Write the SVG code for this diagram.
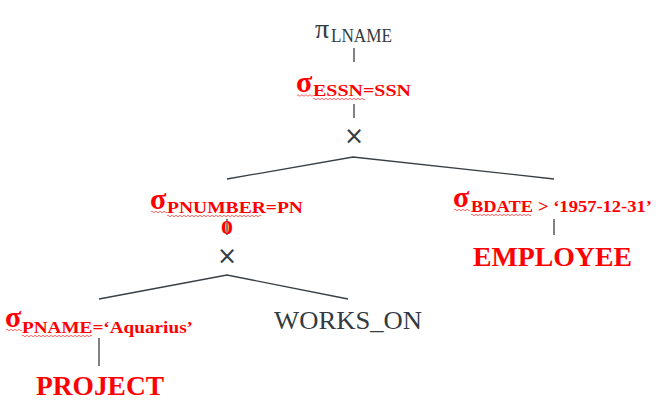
<svg xmlns="http://www.w3.org/2000/svg" width="663" height="406" viewBox="0 0 663 406">
<style>
.r{fill:#ff0000;font-weight:bold}
.g{fill:#333b42}
.x{fill:#333b42}
.ln{stroke:#3a3f44;stroke-width:1.3;fill:none}
.wv{stroke:#ff0000;stroke-width:0.8;fill:none;opacity:0.75}
</style>
<rect width="663" height="406" fill="#ffffff"/>
<g id="connectors">
<line class="ln" x1="354" y1="48" x2="354" y2="62"/>
<line class="ln" x1="354" y1="104" x2="354" y2="118"/>
<polyline class="ln" points="227,179 353,157 554,179"/>
<line class="ln" x1="227" y1="219" x2="227" y2="235"/>
<line class="ln" x1="554" y1="219" x2="554" y2="235"/>
<polyline class="ln" points="99,299 227,275 348,299"/>
<line class="ln" x1="99" y1="338" x2="99" y2="366"/>
</g>
<g font-family="'Liberation Serif', 'DejaVu Serif', serif">
<g id="project-lname">
<text class="g" x="315" y="38" font-size="28">π</text>
<text class="g" x="331" y="42" font-size="18" textLength="61" lengthAdjust="spacingAndGlyphs">LNAME</text>
</g>
<g id="select-essn">
<text class="r" x="296" y="92" font-size="30">σ</text>
<text class="r" x="313" y="96" font-size="17" textLength="98" lengthAdjust="spacingAndGlyphs">ESSN=SSN</text>
<path class="wv" d="M297,95.5q1,-1.5 2,0t2,0t2,0t2,0t2,0t2,0t2,0t2,0"/>
<path class="wv" d="M313,99q1,-1.5 2,0t2,0t2,0t2,0t2,0t2,0t2,0t2,0t2,0t2,0t2,0t2,0t2,0t2,0t2,0t2,0t2,0t2,0t2,0t2,0t2,0t2,0t2,0t2,0t2,0t2,0"/>
</g>
<g id="select-pnumber">
<text class="r" x="150" y="209" font-size="30">σ</text>
<text class="r" x="167" y="213" font-size="17" textLength="136" lengthAdjust="spacingAndGlyphs">PNUMBER=PN</text>
<text class="r" x="221" y="234" font-size="18" textLength="12" lengthAdjust="spacingAndGlyphs">0</text>
<path class="wv" d="M151,212q1,-1.5 2,0t2,0t2,0t2,0t2,0t2,0t2,0t2,0"/>
<path class="wv" d="M167,216q1,-1.5 2,0t2,0t2,0t2,0t2,0t2,0t2,0t2,0t2,0t2,0t2,0t2,0t2,0t2,0t2,0t2,0t2,0t2,0t2,0t2,0t2,0t2,0t2,0t2,0t2,0t2,0t2,0t2,0t2,0t2,0t2,0t2,0t2,0t2,0t2,0t2,0t2,0t2,0t2,0t2,0t2,0t2,0t2,0t2,0t2,0t2,0t2,0"/>
</g>
<g id="select-bdate">
<text class="r" x="453" y="207" font-size="30">σ</text>
<text class="r" x="471" y="212" font-size="17" textLength="62" lengthAdjust="spacingAndGlyphs">BDATE</text>
<text class="r" x="538" y="212" font-size="17" textLength="114" lengthAdjust="spacingAndGlyphs">&gt; ‘1957-12-31’</text>
<path class="wv" d="M454,210q1,-1.5 2,0t2,0t2,0t2,0t2,0t2,0t2,0t2,0"/>
<path class="wv" d="M471,215q1,-1.5 2,0t2,0t2,0t2,0t2,0t2,0t2,0t2,0t2,0t2,0t2,0t2,0t2,0t2,0t2,0t2,0t2,0t2,0t2,0t2,0t2,0t2,0t2,0t2,0t2,0t2,0t2,0t2,0t2,0t2,0"/>
</g>
<g id="employee">
<text class="r" x="473" y="266" font-size="28" textLength="159" lengthAdjust="spacingAndGlyphs">EMPLOYEE</text>
</g>
<g id="select-pname">
<text class="r" x="5" y="327" font-size="30">σ</text>
<text class="r" x="22" y="333" font-size="17" textLength="171" lengthAdjust="spacingAndGlyphs">PNAME=‘Aquarius’</text>
<path class="wv" d="M6,330q1,-1.5 2,0t2,0t2,0t2,0t2,0t2,0t2,0t2,0"/>
<path class="wv" d="M22,336q1,-1.5 2,0t2,0t2,0t2,0t2,0t2,0t2,0t2,0t2,0t2,0t2,0t2,0t2,0t2,0t2,0t2,0t2,0t2,0t2,0t2,0t2,0t2,0t2,0t2,0t2,0t2,0t2,0t2,0t2,0t2,0t2,0t2,0t2,0t2,0t2,0"/>
</g>
<g id="works-on">
<text class="g" x="274" y="329" font-size="26" textLength="148" lengthAdjust="spacingAndGlyphs">WORKS_ON</text>
</g>
<g id="project">
<text class="r" x="36" y="395" font-size="28" textLength="128" lengthAdjust="spacingAndGlyphs">PROJECT</text>
</g>
</g>
<g font-family="'DejaVu Sans', 'Liberation Sans', sans-serif">
<g id="cross-top">
<text class="x" x="354" y="144" font-size="24" text-anchor="middle">×</text>
</g>
<g id="cross-bottom">
<text class="x" x="227" y="264" font-size="24" text-anchor="middle">×</text>
</g>
</g>
</svg>
